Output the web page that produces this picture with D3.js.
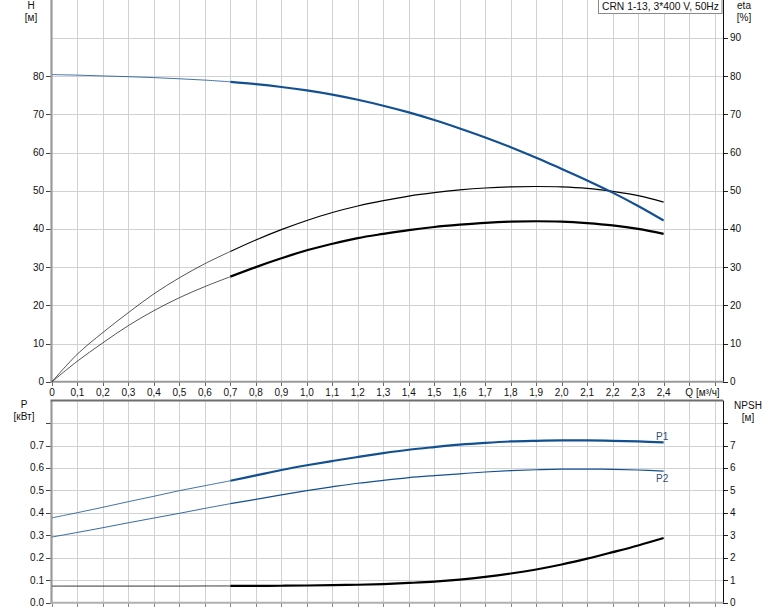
<!DOCTYPE html>
<html><head><meta charset="utf-8">
<script src="https://cdn.jsdelivr.net/npm/d3@7"></script>
<style>
html,body{margin:0;padding:0;background:#fff;}
svg{display:block;font-family:"Liberation Sans",Arial,sans-serif;font-size:10px;}
</style></head>
<body>
<script>
// ---- data ----
const flow = [0,0.1,0.2,0.3,0.4,0.5,0.6,0.7,0.8,0.9,1.0,1.1,1.2,1.3,1.4,1.5,1.6,1.7,1.8,1.9,2.0,2.1,2.2,2.3,2.4];
const head = [80.4,80.25,80.05,79.85,79.6,79.3,78.95,78.5,77.9,77.15,76.25,75.15,73.8,72.25,70.5,68.5,66.3,63.95,61.4,58.65,55.7,52.7,49.5,46.0,42.2];
const etaPump = [0,7.25,12.9,18.1,23.0,27.2,30.9,34.1,37.1,39.8,42.2,44.3,46.0,47.4,48.6,49.5,50.2,50.7,51.0,51.1,51.0,50.6,49.8,48.7,47.0];
const etaTotal = [0,5.4,10.2,14.7,18.6,22.0,24.9,27.5,30.0,32.3,34.4,36.1,37.6,38.7,39.7,40.5,41.1,41.6,41.9,42.0,41.9,41.5,40.9,40.0,38.7];
const powerP1 = [0.378,0.401,0.425,0.450,0.474,0.499,0.521,0.543,0.567,0.591,0.612,0.631,0.649,0.666,0.681,0.693,0.704,0.712,0.718,0.721,0.723,0.723,0.721,0.718,0.714];
const powerP2 = [0.2925,0.313,0.334,0.356,0.377,0.398,0.420,0.441,0.460,0.480,0.499,0.516,0.532,0.545,0.557,0.566,0.574,0.582,0.588,0.592,0.595,0.595,0.594,0.591,0.586];
const npsh = [0.74,0.74,0.74,0.74,0.74,0.74,0.745,0.745,0.75,0.755,0.765,0.78,0.80,0.83,0.88,0.94,1.03,1.15,1.30,1.48,1.70,1.96,2.25,2.55,2.88];
const xTicks = [0,0.1,0.2,0.3,0.4,0.5,0.6,0.7,0.8,0.9,1.0,1.1,1.2,1.3,1.4,1.5,1.6,1.7,1.8,1.9,2.0,2.1,2.2,2.3,2.4,2.5,2.6];
const xLabelMax = 2.4;
const hTicks = [0,10,20,30,40,50,60,70,80];
const etaTicks = [0,10,20,30,40,50,60,70,80,90];
const topGrid = [10,20,30,40,50,60,70,80,90];
const pTicks = [0,0.1,0.2,0.3,0.4,0.5,0.6,0.7];
const npshTicks = [0,1,2,3,4,5,6,7];
const bottomGrid = [0.1,0.2,0.3,0.4,0.5,0.6,0.7,0.8];
const title = "CRN 1-13, 3*400 V, 50Hz";
const thickFrom = 7; // index of Q=0.7

const W = 774, H = 611;
const svg = d3.select("body").append("svg").attr("width", W).attr("height", H);

const x = d3.scaleLinear().domain([0, 2.633]).range([52, 723]);
const yTop = d3.scaleLinear().domain([0, 100]).range([381.7, -0.3]);
const yBot = d3.scaleLinear().domain([0, 0.9]).range([602.7, 400.6]);
const yNpsh = d3.scaleLinear().domain([0, 9]).range([602.7, 400.6]);

const gridColor = "#cfd1d3";
const blue = "#135092";

// grid
const g = svg.append("g").attr("shape-rendering","crispEdges");
g.selectAll(".vt").data(xTicks.slice(1)).enter().append("line")
  .attr("x1", d=>Math.round(x(d))+0.5).attr("x2", d=>Math.round(x(d))+0.5)
  .attr("y1", 0).attr("y2", yTop(0)).attr("stroke", gridColor);
g.selectAll(".ht").data(topGrid).enter().append("line")
  .attr("x1", x(0)).attr("x2", x.range()[1])
  .attr("y1", d=>Math.round(yTop(d))+0.5).attr("y2", d=>Math.round(yTop(d))+0.5).attr("stroke", gridColor);
g.selectAll(".vb").data(xTicks.slice(1)).enter().append("line")
  .attr("x1", d=>Math.round(x(d))+0.5).attr("x2", d=>Math.round(x(d))+0.5)
  .attr("y1", yBot(0.9)).attr("y2", yBot(0)).attr("stroke", gridColor);
g.selectAll(".hb").data(bottomGrid).enter().append("line")
  .attr("x1", x(0)).attr("x2", x.range()[1])
  .attr("y1", d=>Math.round(yBot(d))+0.5).attr("y2", d=>Math.round(yBot(d))+0.5).attr("stroke", gridColor);

// axes
function leftAxis(scale, ticks, extraTicks, fmt){
  const a = svg.append("g");
  a.selectAll("line.t").data(ticks.concat(extraTicks)).enter().append("line")
    .attr("x1", 46).attr("x2", 51).attr("y1", d=>Math.round(scale(d))+0.5).attr("y2", d=>Math.round(scale(d))+0.5)
    .attr("stroke", "#444").attr("shape-rendering","crispEdges");
  a.selectAll("text").data(ticks).enter().append("text")
    .attr("x", 44).attr("y", d=>scale(d)).attr("dy","0.35em").attr("text-anchor","end").attr("fill","#111").text(fmt);
}
function rightAxis(scale, ticks, extraTicks, fmt){
  const a = svg.append("g");
  a.selectAll("line.t").data(ticks.concat(extraTicks)).enter().append("line")
    .attr("x1", 723).attr("x2", 728).attr("y1", d=>Math.round(scale(d))+0.5).attr("y2", d=>Math.round(scale(d))+0.5)
    .attr("stroke", "#222").attr("shape-rendering","crispEdges");
  a.selectAll("text").data(ticks).enter().append("text")
    .attr("x", 730).attr("y", d=>scale(d)).attr("dy","0.35em").attr("text-anchor","start").attr("fill","#111").text(fmt);
}
leftAxis(yTop, hTicks, [], d=>d3.format("d")(d));
rightAxis(yTop, etaTicks, [], d=>d3.format("d")(d));
leftAxis(yBot, pTicks, [0.8], d=>d3.format(".1f")(d));
rightAxis(yNpsh, npshTicks, [8], d=>d3.format("d")(d));

// x ticks
const xt = svg.append("g").attr("shape-rendering","crispEdges");
xt.selectAll(".a").data(xTicks).enter().append("line")
  .attr("x1", d=>Math.round(x(d))+0.5).attr("x2", d=>Math.round(x(d))+0.5)
  .attr("y1", yTop(0)).attr("y2", yTop(0)+4).attr("stroke","#666");
xt.selectAll(".b").data(xTicks).enter().append("line")
  .attr("x1", d=>Math.round(x(d))+0.5).attr("x2", d=>Math.round(x(d))+0.5)
  .attr("y1", yBot(0)).attr("y2", yBot(0)+4).attr("stroke","#888");
svg.append("g").selectAll("text").data(xTicks.filter(d=>d<=xLabelMax+1e-9)).enter().append("text")
  .attr("x", d=>x(d)).attr("y", 395.5).attr("text-anchor","middle").attr("fill","#111")
  .text(d=> d===0 ? "0" : d3.format(".1f")(d).replace(".", ","));
svg.append("text").attr("x", 702.5).attr("y", 395.5).attr("text-anchor","middle").attr("fill","#111").text("Q [м³/ч]");

// axis lines
svg.append("line").attr("x1",51.5).attr("x2",51.5).attr("y1",0).attr("y2",yTop(0)+1).attr("stroke","#9a9a9a").attr("stroke-width",2.2);
svg.append("line").attr("x1",50.5).attr("x2",723).attr("y1",yTop(0)).attr("y2",yTop(0)).attr("stroke","#9a9a9a").attr("stroke-width",2);
svg.append("line").attr("x1",723.5).attr("x2",723.5).attr("y1",0).attr("y2",yTop(0)).attr("stroke","#111").attr("stroke-width",1);
svg.append("line").attr("x1",51.5).attr("x2",51.5).attr("y1",yBot(0.9)).attr("y2",yBot(0)+1).attr("stroke","#9a9a9a").attr("stroke-width",2.2);
svg.append("line").attr("x1",50.5).attr("x2",723).attr("y1",yBot(0.9)).attr("y2",yBot(0.9)).attr("stroke","#6e6e6e").attr("stroke-width",2);
svg.append("line").attr("x1",50.5).attr("x2",723).attr("y1",yBot(0)).attr("y2",yBot(0)).attr("stroke","#b0b0b0").attr("stroke-width",2);
svg.append("line").attr("x1",723.5).attr("x2",723.5).attr("y1",yBot(0.9)).attr("y2",yBot(0)).attr("stroke","#111").attr("stroke-width",1);

// axis titles
function title2(xp, y1, t1, t2, anchor){
  svg.append("text").attr("x",xp).attr("y",y1).attr("text-anchor",anchor).attr("fill","#111").text(t1);
  svg.append("text").attr("x",xp).attr("y",y1+12).attr("text-anchor",anchor).attr("fill","#111").text(t2);
}
title2(31, 9, "H", "[м]", "middle");
title2(744, 9, "eta", "[%]", "middle");
title2(24, 408, "P", "[кВт]", "middle");
title2(748, 409, "NPSH", "[м]", "middle");

// curves
function drawCurve(vals, scale, color, thinW, thickW, thinOpacity){
  const pts = flow.map((q,i)=>[x(q), scale(vals[i])]);
  const line = d3.line().curve(d3.curveCatmullRom.alpha(0.5));
  svg.append("path").attr("d", line(pts.slice(0, thickFrom+1))).attr("fill","none")
    .attr("stroke", color).attr("stroke-width", thinW).attr("stroke-opacity", thinOpacity);
  svg.append("path").attr("d", line(pts.slice(thickFrom))).attr("fill","none")
    .attr("stroke", color).attr("stroke-width", thickW).attr("stroke-linecap","butt");
}
drawCurve(etaPump, yTop, "#000", 0.9, 1.2, 0.75);
drawCurve(etaTotal, yTop, "#000", 0.9, 2.2, 0.75);
drawCurve(head, yTop, blue, 1, 2.2, 0.8);
drawCurve(powerP1, yBot, blue, 1, 2.2, 0.8);
drawCurve(powerP2, yBot, blue, 1, 1.2, 0.85);
drawCurve(npsh, yNpsh, "#000", 1, 2.2, 0.8);

// curve labels
svg.append("text").attr("x", 656).attr("y", 440).attr("fill","#2f4d78").text("P1");
svg.append("text").attr("x", 656).attr("y", 482).attr("fill","#2f4d78").text("P2");

// legend box
svg.append("rect").attr("x",598.5).attr("y",-1).attr("width",123.5).attr("height",14.5)
  .attr("fill","#fff").attr("stroke","#8a8a8a");
svg.append("text").attr("x",602).attr("y",10).attr("fill","#111").attr("font-size","10.3px").text(title);
</script>
</body></html>
